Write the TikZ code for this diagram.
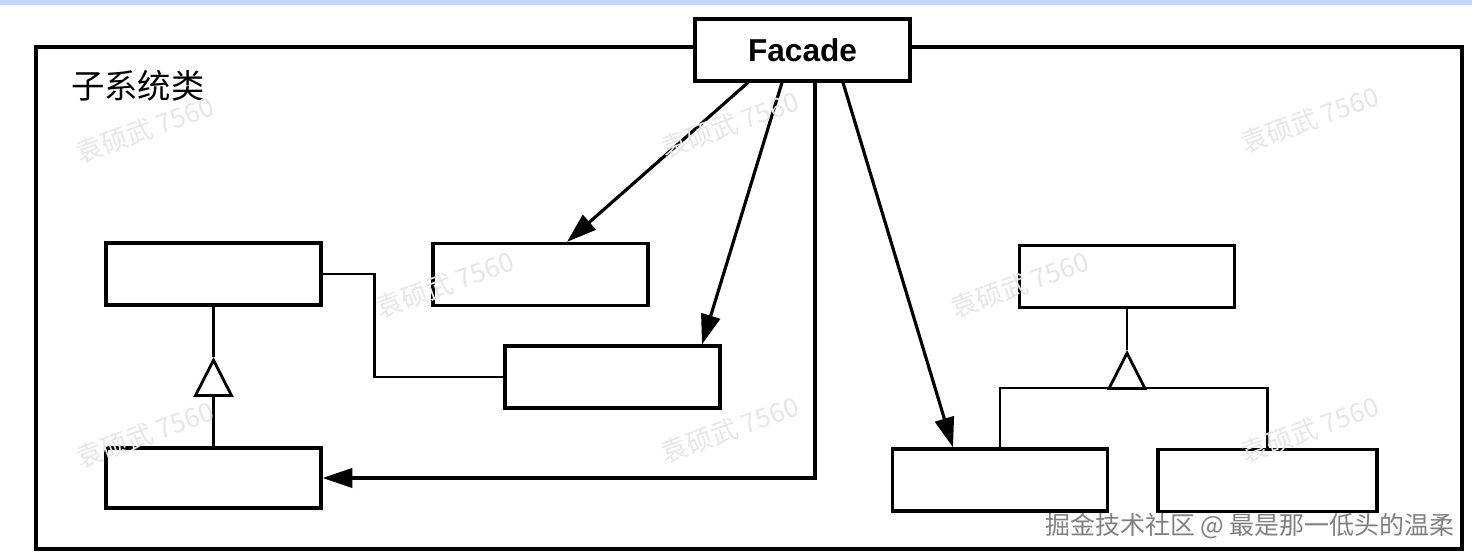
\documentclass[tikz,border=0pt]{standalone}
\usepackage{fontspec}
\setsansfont{Liberation Sans}
\newfontfamily\cjk{Noto Sans CJK SC}
\usepackage{tikz}
\usetikzlibrary{arrows.meta, positioning, calc}
\usepackage{xcolor}
\definecolor{stripBlue}{HTML}{C9D5F5}
\definecolor{markGray}{HTML}{E6E6E6}

\begin{document}
\begin{tikzpicture}[x=1cm, y=1cm,
    classbox/.style={draw, line width=0.9pt, fill=white, minimum width=2.15cm,
      minimum height=0.62cm, inner sep=0pt},
    link/.style={line width=0.8pt},
    calls/.style={line width=0.9pt, -{Triangle[length=8.5pt, width=5.5pt]}},
    inherits/.style={line width=0.8pt, -{Triangle[open, length=0.4cm, width=0.4cm]}},
    stamp/.style={text=markGray, font=\cjk\fontsize{7.5}{9}\selectfont, rotate=20}]
    \useasboundingbox (0,0) rectangle (14.72,-5.58);
    \fill[stripBlue] (0,0) rectangle (14.72,-0.05);
    \draw[line width=1pt] (0.36,-0.47) rectangle (14.62,-5.49);
    \node[font=\cjk\fontsize{9.5}{11}\selectfont] (title) at (1.38,-0.86) {子系统类};
    \node[classbox, font=\sffamily\bfseries\fontsize{9}{10}\selectfont] (facade)
      at (8.025,-0.50) {Facade};
    \node[classbox] (a1) at (2.135,-2.74) {};
    \node[classbox, minimum height=0.60cm] (a2) at (2.135,-4.78) {};
    \node[classbox] (b1) at (5.405,-2.745) {};
    \node[classbox] (b2) at (6.125,-3.77) {};
    \node[classbox] (c1) at (11.27,-2.765) {};
    \node[classbox] (c2) at (10.00,-4.80) {};
    \node[classbox, minimum width=2.19cm] (c3) at (12.675,-4.805) {};
    \coordinate (t1) at (2.135,-3.57);
    \coordinate (bar) at (11.27,-3.88);
    \coordinate (t2) at (11.27,-3.50);
    \draw[inherits] (a2.north) -- (t1);
    \draw[link] (t1) -- (a1.south);
    \draw[link] (a1.east) -- ++(0.52,0) |- (b2.west);
    \draw[link] (c2.north) |- (bar) -| (c3.north);
    \draw[inherits] (bar) -- (t2);
    \draw[link] (t2) -- (c1.south);
    \draw[calls] ([xshift=-0.545cm]facade.south) -- ([xshift=0.265cm]b1.north);
    \draw[calls] ([xshift=-0.205cm]facade.south) -- ([xshift=0.895cm]b2.north);
    \draw[calls] ([xshift=0.125cm]facade.south) |- (a2.east);
    \draw[calls] ([xshift=0.405cm]facade.south) -- ([xshift=-0.47cm]c2.north);
    \foreach \x/\y in {1.45/-1.3, 7.3/-1.25, 13.1/-1.2, 4.45/-2.85, 10.2/-2.85,
                       1.45/-4.35, 7.3/-4.3, 13.1/-4.3}
      \node[stamp] (mark) at (\x,\y) {袁硕武 7560};
    \node[text=gray, font=\cjk\fontsize{7.1}{9}\selectfont] (site) at (12.50,-5.265)
      {掘金技术社区 @ 最是那一低头的温柔};
  \end{tikzpicture}
\end{document}
